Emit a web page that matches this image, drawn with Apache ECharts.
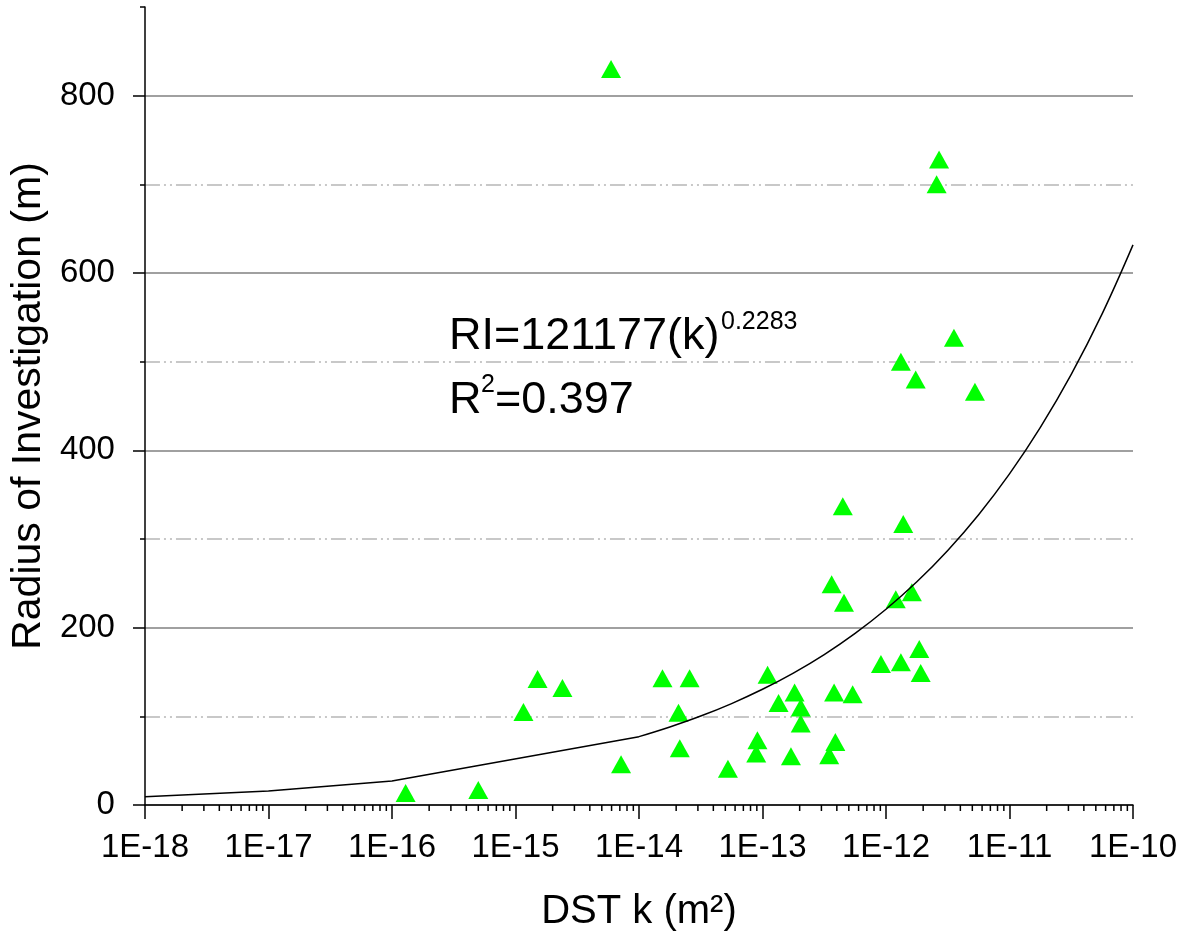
<!DOCTYPE html>
<html><head><meta charset="utf-8">
<script src="https://cdn.jsdelivr.net/npm/echarts@6/dist/echarts.min.js"></script>
<style>html,body{margin:0;padding:0;background:#fff}#c{width:1196px;height:937px}</style>
</head><body><div id="c"></div>
<script>
// ---- data ----
const permeabilityK = [
  1.29e-16, 5.0e-16, 1.16e-15, 1.51e-15, 2.40e-15, 5.94e-15, 7.16e-15,
  1.55e-14, 2.57e-14, 2.09e-14, 2.14e-14, 5.25e-14,
  1.10e-13, 9.1e-14, 8.9e-14, 1.35e-13, 1.82e-13, 2.04e-13, 2.04e-13, 1.70e-13,
  3.80e-13, 5.37e-13, 3.89e-13, 3.47e-13, 9.1e-13, 4.47e-13, 1.38e-12, 3.63e-13,
  4.57e-13, 1.20e-12, 1.62e-12, 1.32e-12, 1.86e-12, 1.91e-12,
  2.69e-12, 2.57e-12, 3.55e-12, 1.32e-12, 1.74e-12, 5.25e-12
];
const radiusRI = [
  13.5, 17, 105, 142, 132, 830, 46,
  143, 143, 104, 64, 41,
  147, 73, 58, 115, 127, 110, 92, 55,
  127, 125, 71, 56, 159, 337, 317, 249,
  228, 232, 240, 161, 176, 149,
  728, 700, 527, 500, 480, 466
];
// fitted curve RI = 121177 k^0.2283, as drawn in the reference
const fitLowK  = [1e-18, 1e-17, 1e-16, 1e-14];
const fitLowRI = [9.4, 15.9, 27.0, 77.1];
const fitHighK = [1e-14, 1.778e-14, 3.162e-14, 5.623e-14, 1e-13, 1.778e-13, 3.162e-13, 5.623e-13,
                  1e-12, 1.778e-12, 3.162e-12, 5.623e-12, 1e-11, 1.778e-11, 3.162e-11, 5.623e-11, 1e-10];
const fitHighRI = [77.1, 88.0, 100.3, 114.4, 130.5, 148.8, 169.7, 193.6,
                   220.8, 251.7, 287.1, 327.4, 373.4, 425.9, 485.7, 553.9, 631.7];
const xTickLabels = ['1E-18','1E-17','1E-16','1E-15','1E-14','1E-13','1E-12','1E-11','1E-10'];
const yTickLabels = ['0','200','400','600','800'];
const decadeExponents = [-18,-17,-16,-15,-14,-13,-12,-11];
const minorMultipliers = [2,3,4,5,6,7,8,9];

const FONT = '"Liberation Sans", Arial, sans-serif';
const zip = (a, b) => a.map((v, i) => [v, b[i]]);
const minorTickData = [];
decadeExponents.forEach(d => minorMultipliers.forEach(m => minorTickData.push([m * Math.pow(10, d), 0])));

const chart = echarts.init(document.getElementById('c'), null, {renderer: 'canvas'});
chart.setOption({
  animation: false,
  backgroundColor: '#fff',
  grid: {left: 143, right: 63, top: 7, bottom: 132, containLabel: false},
  xAxis: {
    type: 'log', logBase: 10, min: 1e-18, max: 1e-10,
    name: 'DST k (m\u00B2)', nameLocation: 'middle', nameGap: 87,
    nameTextStyle: {fontFamily: FONT, fontSize: 40, color: '#000'},
    axisLine: {lineStyle: {color: '#000', width: 1.5}},
    axisTick: {length: 14, lineStyle: {color: '#000', width: 1.5}},
    axisLabel: {
      fontFamily: FONT, fontSize: 33, color: '#000', margin: 26,
      formatter: v => xTickLabels[Math.round(Math.log10(v)) + 18]
    },
    splitLine: {show: false}
  },
  yAxis: [{
    type: 'value', min: 0, max: 900, interval: 200,
    name: 'Radius of Investigation (m)', nameLocation: 'middle', nameGap: 90,
    nameTextStyle: {fontFamily: FONT, fontSize: 41, color: '#000'},
    axisLine: {show: true, lineStyle: {color: '#000', width: 1.5}},
    axisTick: {show: true, length: 12, lineStyle: {color: '#000', width: 1.5}},
    axisLabel: {fontFamily: FONT, fontSize: 33, color: '#000', margin: 30, showMaxLabel: false,
      formatter: v => yTickLabels[v / 200] !== undefined ? yTickLabels[v / 200] : ''},
    splitLine: {show: true, showMaxLine: false, lineStyle: {color: '#a0a0a0', width: 2}}
  }, {
    type: 'value', min: 0, max: 900, interval: 100, position: 'left',
    axisLine: {show: false},
    axisTick: {show: true, length: 5, lineStyle: {color: '#000', width: 1.5}},
    axisLabel: {show: false},
    splitLine: {show: true, showMinLine: false, showMaxLine: false,
      lineStyle: {color: ['#c8c8c8', 'rgba(0,0,0,0)'], width: 2, type: [15, 4, 2, 4, 2, 4]}}
  }],
  series: [{
    type: 'custom', coordinateSystem: 'cartesian2d', clip: false, silent: true,
    data: minorTickData, encode: {x: 0, y: 1}, z: 3,
    renderItem: (params, api) => {
      const p = api.coord([api.value(0), 0]);
      return {type: 'line', shape: {x1: p[0], y1: p[1], x2: p[0], y2: p[1] + 6},
              style: {stroke: '#000', lineWidth: 1.5}};
    }
  }, {
    type: 'scatter', data: zip(permeabilityK, radiusRI),
    symbol: 'triangle', symbolSize: [20, 18],
    itemStyle: {color: '#00ff00', opacity: 1}, z: 4
  }, {
    type: 'line', data: zip(fitLowK, fitLowRI), showSymbol: false, smooth: false,
    lineStyle: {color: '#000', width: 1.5}, z: 5
  }, {
    type: 'line', data: zip(fitHighK, fitHighRI), showSymbol: false, smooth: 0.4,
    lineStyle: {color: '#000', width: 1.5}, z: 5
  }],
  graphic: [
    {type: 'text', x: 449, y: 337, style: {text: 'RI=121177(k)', font: '45px ' + FONT, fill: '#000', align: 'left', verticalAlign: 'middle'}},
    {type: 'text', x: 721, y: 322, style: {text: '0.2283', font: '25px ' + FONT, fill: '#000', align: 'left', verticalAlign: 'middle'}},
    {type: 'text', x: 449, y: 401, style: {text: 'R', font: '45px ' + FONT, fill: '#000', align: 'left', verticalAlign: 'middle'}},
    {type: 'text', x: 481, y: 385, style: {text: '2', font: '25px ' + FONT, fill: '#000', align: 'left', verticalAlign: 'middle'}},
    {type: 'text', x: 495, y: 401, style: {text: '=0.397', font: '45px ' + FONT, fill: '#000', align: 'left', verticalAlign: 'middle'}}
  ]
});
</script>
</body></html>
